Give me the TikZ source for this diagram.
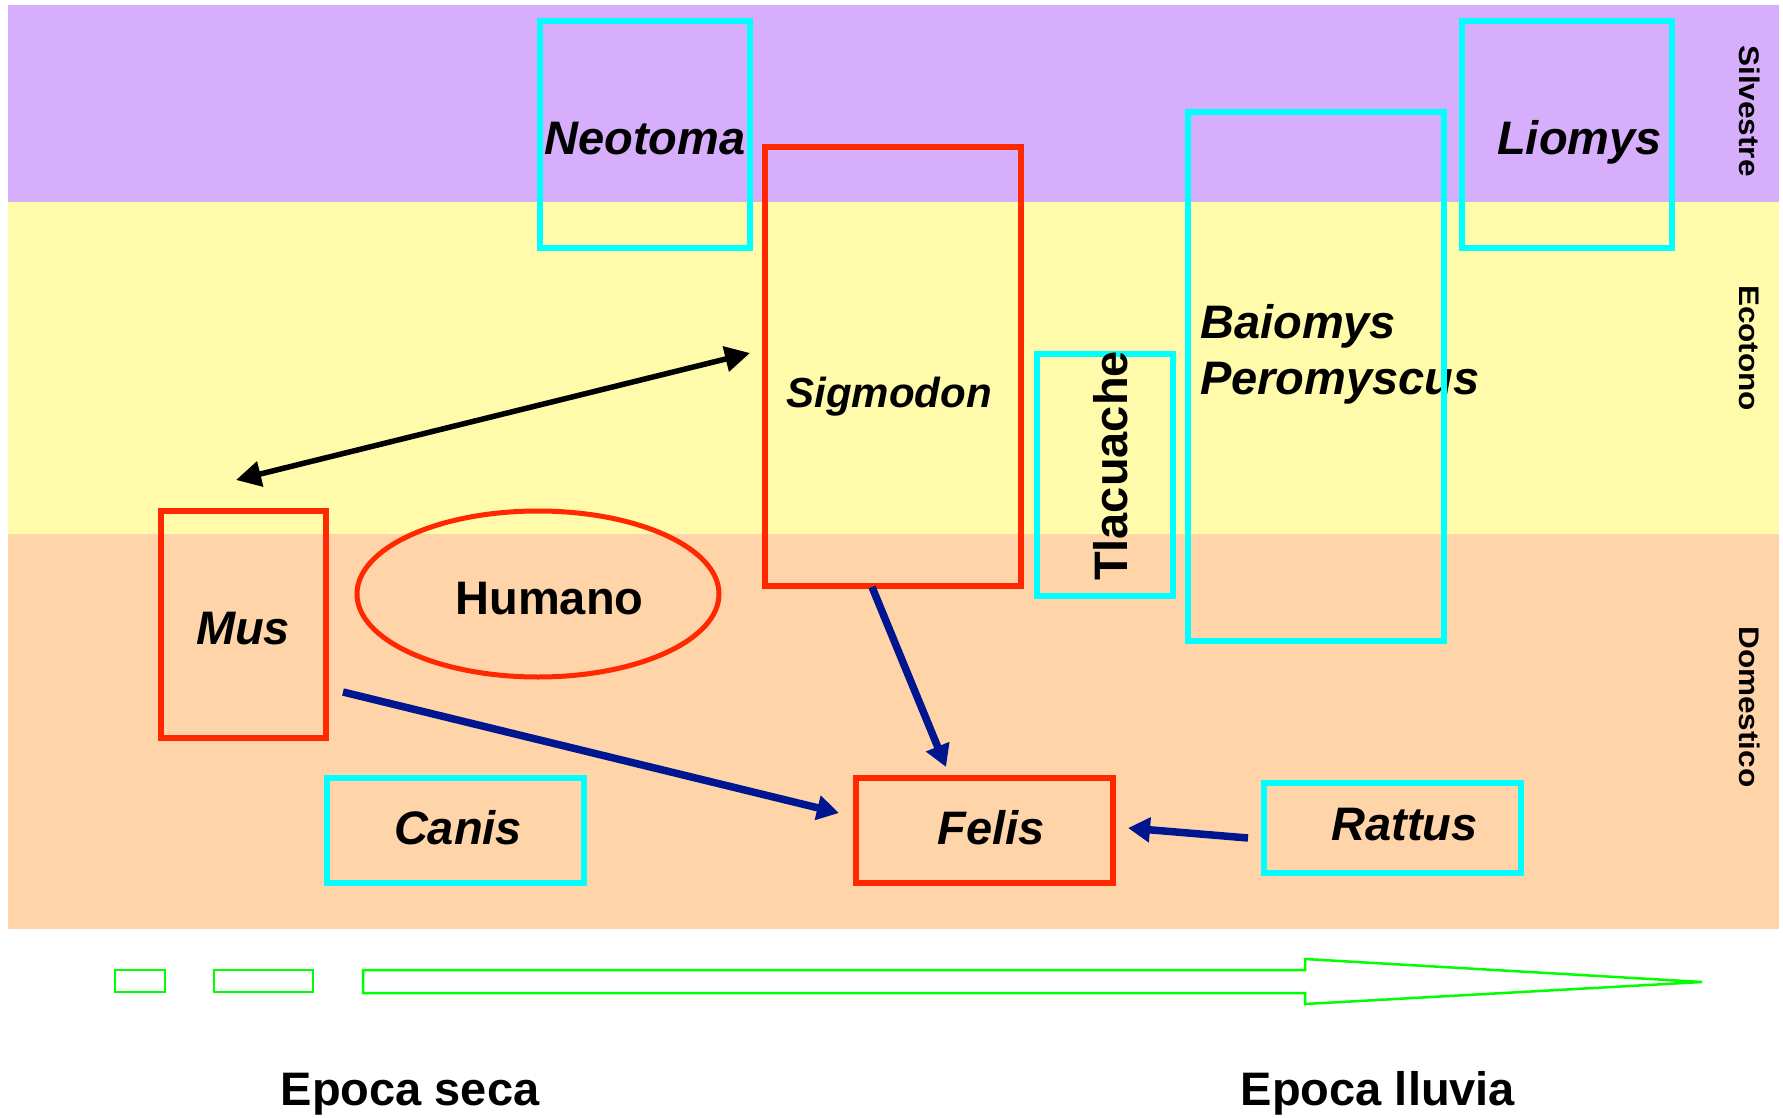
\documentclass[tikz,border=0pt]{standalone}
\usepackage{fontspec}
\setmainfont{Liberation Sans}
\usetikzlibrary{arrows.meta,shapes.geometric}
\definecolor{bandpurple}{RGB}{214,174,252}
\definecolor{bandyellow}{RGB}{255,251,170}
\definecolor{bandpeach}{RGB}{254,212,168}
\definecolor{boxred}{RGB}{255,40,0}
\definecolor{boxcyan}{RGB}{0,255,255}
\definecolor{arrownavy}{RGB}{0,22,145}
\definecolor{arrowgreen}{RGB}{0,255,0}
\begin{document}
\begin{tikzpicture}[x=1pt,y=-1pt,
  redbox/.style={draw=boxred,line width=6pt,inner sep=0pt,rectangle},
  cyanbox/.style={draw=boxcyan,line width=6pt,inner sep=0pt,rectangle},
  redoval/.style={draw=boxred,line width=5pt,inner sep=0pt,ellipse},
  sp/.style={font=\fontsize{47}{56}\selectfont\bfseries\itshape,inner sep=0pt,anchor=base},
  spsmall/.style={font=\fontsize{42}{50}\selectfont\bfseries\itshape,inner sep=0pt,anchor=base},
  up/.style={font=\fontsize{47}{56}\selectfont\bfseries,inner sep=0pt,anchor=base},
  zone/.style={font=\fontsize{31.5}{36}\selectfont\bfseries,inner sep=0pt,anchor=base,rotate=-90},
  blackarrow/.style={draw=black,line width=5.5pt,{Triangle[length=25pt,width=25pt]}-{Triangle[length=25pt,width=25pt]}},
  bluearrow/.style={draw=arrownavy,line width=7.5pt,-{Triangle[length=22pt,width=24pt]}},
  greenline/.style={draw=arrowgreen,line width=2.5pt,line join=miter}]
\useasboundingbox (0,0) rectangle (1783,1118);
\fill[white] (0,0) rectangle (1783,1118);
% bands
\fill[bandpurple] (7.5,5) rectangle (1779,202);
\fill[bandyellow] (7.5,202) rectangle (1779,534);
\fill[bandpeach] (7.5,534) rectangle (1779,929);
% text lying under a box border
\node[sp,anchor=base west] (tbaiomys) at (1200,338) {Baiomys};
\node[sp,anchor=base west] (tperomyscus) at (1200,394) {Peromyscus};
% boxes
\node[cyanbox,minimum width=210,minimum height=227] (neotoma) at (645,134.5) {};
\node[cyanbox,minimum width=210,minimum height=227] (liomys) at (1567,134.5) {};
\node[redbox,minimum width=256,minimum height=439] (sigmodon) at (893,366.5) {};
\node[cyanbox,minimum width=136,minimum height=242] (tlacuache) at (1105,475) {};
\node[cyanbox,minimum width=256,minimum height=529] (baiomys) at (1316,376.5) {};
\node[redbox,minimum width=165,minimum height=227] (mus) at (243.5,624) {};
\node[redoval,minimum width=362,minimum height=166] (humano) at (538,594) {};
\node[cyanbox,minimum width=257,minimum height=105] (canis) at (455.5,830.5) {};
\node[redbox,minimum width=257,minimum height=105] (felis) at (984.5,830.5) {};
\node[cyanbox,minimum width=257,minimum height=90] (rattus) at (1392.5,828) {};
% texts
\node[sp] (tneotoma) at (645,155) {Neotoma};
\node[sp] (tliomys) at (1579.5,155) {Liomys};
\node[spsmall] (tsigmodon) at (889,407) {Sigmodon};
\node[up,rotate=90] (ttlacuache) at (1127,466) {Tlacuache};
\node[sp] (tmus) at (243,644) {Mus};
\node[up] (thumano) at (549.5,614) {Humano};
\node[sp] (tcanis) at (458,844) {Canis};
\node[sp] (tfelis) at (991,844) {Felis};
\node[sp] (trattus) at (1404.5,840) {Rattus};
\node[zone] (silvestre) at (1739,111) {\scalebox{1}[0.9]{Silvestre}};
\node[zone] (ecotono) at (1739,348) {\scalebox{1}[0.9]{Ecotono}};
\node[zone] (domestico) at (1739,707) {\scalebox{1}[0.9]{Domestico}};
\node[up] (seca) at (410,1105) {Epoca seca};
\node[up] (lluvia) at (1378,1105) {Epoca lluvia};
% connectors
\coordinate (musup) at (236,480);
\coordinate (sigin) at (750,353);
\draw[blackarrow] (musup) -- (sigin);
\coordinate (musout) at (343,692);
\coordinate (felisw) at (839,813);
\draw[bluearrow] (musout) -- (felisw);
\coordinate (sigout) at (872,587);
\coordinate (felisn) at (946,767);
\draw[bluearrow] (sigout) -- (felisn);
\coordinate (rattusout) at (1248,838);
\coordinate (felise) at (1128,828);
\draw[bluearrow] (rattusout) -- (felise);
% season arrow
\draw[greenline] (115,970) rectangle (165,992);
\draw[greenline] (214,970) rectangle (313,992);
\draw[greenline] (363,970) -- (1305,970) -- (1305,959) -- (1702,982) -- (1305,1004) -- (1305,993) -- (363,993) -- cycle;
\end{tikzpicture}
\end{document}
